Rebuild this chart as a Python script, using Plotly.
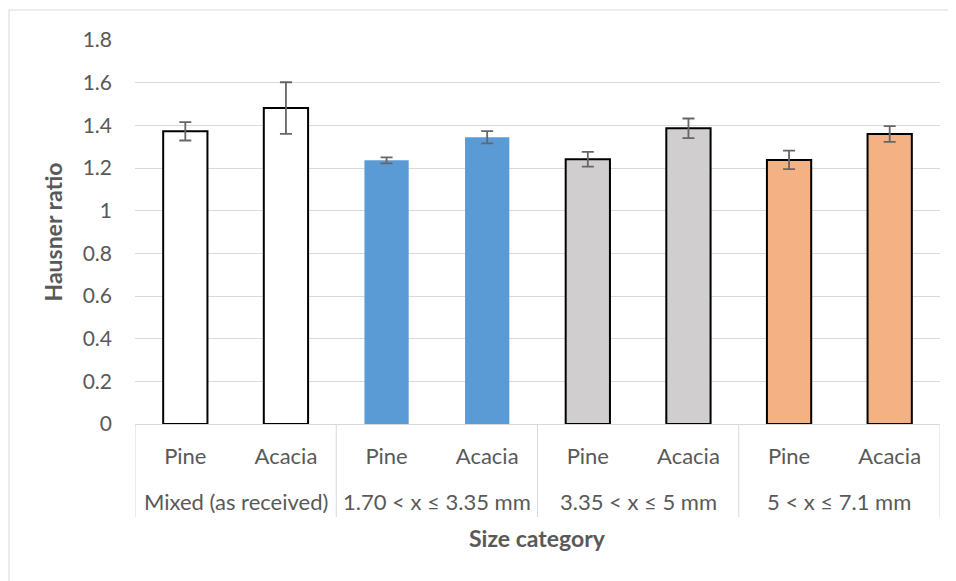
import plotly.graph_objects as go

group_labels = ["Mixed (as received)", "1.70 < x ≤ 3.35 mm",
                "3.35 < x ≤ 5 mm", "5 < x ≤ 7.1 mm"]
species = ["Pine", "Acacia", "Pine", "Acacia", "Pine", "Acacia", "Pine", "Acacia"]
bar_pos = [0, 1, 2, 3, 4, 5, 6, 7]
hausner = [1.372, 1.481, 1.236, 1.344, 1.241, 1.386, 1.238, 1.359]
err = [0.043, 0.121, 0.014, 0.029, 0.035, 0.046, 0.043, 0.037]
y_ticks = [0, 0.2, 0.4, 0.6, 0.8, 1, 1.2, 1.4, 1.6, 1.8]

colors = ["#FFFFFF", "#FFFFFF", "#5B9BD5", "#5B9BD5",
          "#D0CECE", "#D0CECE", "#F4B183", "#F4B183"]
line_widths = [2, 2, 0, 0, 2, 2, 2, 2]

FONT = "Lato"
GRAY = "#595959"
GRID = "#D9D9D9"

W, H = 948, 573
L, R, T, B = 127, 16, 32, 157
PW, PH = W - L - R, H - T - B

fig = go.Figure()
fig.add_trace(go.Bar(
    x=bar_pos,
    y=hausner,
    marker=dict(color=colors, line=dict(color="#000000", width=line_widths)),
    error_y=dict(type="data", array=err, visible=True, color="#666666",
                 thickness=1.8, width=6),
    showlegend=False,
))

fig.update_layout(
    width=W, height=H,
    margin=dict(l=L, r=R, t=T, b=B, autoexpand=False),
    paper_bgcolor="white", plot_bgcolor="white",
    bargap=0.56,
    font=dict(family=FONT, size=22, color=GRAY),
    xaxis=dict(
        range=[-0.5, 7.5],
        tickvals=bar_pos, ticktext=species,
        showline=True, linecolor=GRID, linewidth=1,
        ticks="", ticklabelstandoff=13,
        tickfont=dict(family=FONT, size=22, color=GRAY),
        showgrid=False, zeroline=False,
    ),
    yaxis=dict(
        range=[0, 1.8], tickvals=y_ticks,
        ticktext=[("%g" % v) for v in y_ticks],
        showgrid=True, gridcolor=GRID, gridwidth=1,
        zeroline=False, showline=False,
        tickfont=dict(family=FONT, size=21, color=GRAY),
        ticks="", ticklabelstandoff=22,
        title=dict(text="<b>Hausner ratio</b>", font=dict(family=FONT, size=23, color=GRAY), standoff=13),
    ),
)

# group labels below the species labels
for i, g in enumerate(group_labels):
    fig.add_annotation(x=2 * i + 0.5, y=-77 / PH, xref="x", yref="paper",
                       text=g, showarrow=False, xanchor="center", yanchor="middle",
                       font=dict(family=FONT, size=22, color=GRAY))

# group dividers
for xb in [-0.5, 1.5, 3.5, 5.5, 7.5]:
    fig.add_shape(type="line", xref="x", yref="paper", x0=xb, x1=xb,
                  y0=0, y1=-93 / PH, line=dict(color=GRID, width=1))

# x axis title
fig.add_annotation(x=0.5, y=-114 / PH, xref="paper", yref="paper",
                   text="<b>Size category</b>", showarrow=False,
                   xanchor="center", yanchor="middle",
                   font=dict(family=FONT, size=23, color=GRAY))

# chart frame
fig.add_shape(type="rect", xref="paper", yref="paper",
              x0=-126 / PW, x1=(970 - 135) / PW, y0=(424 - 600) / PH, y1=1 + 30 / PH,
              line=dict(color=GRID, width=1), fillcolor="rgba(0,0,0,0)", layer="below")

fig.write_html("out.html")
